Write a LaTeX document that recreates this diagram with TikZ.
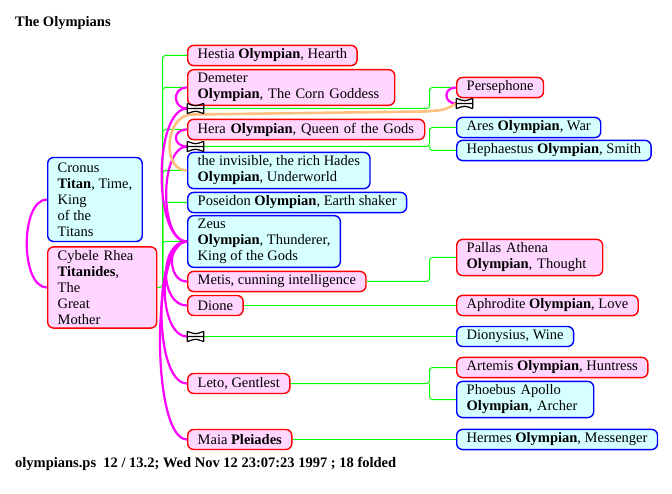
\documentclass[tikz,border=0pt]{standalone}
\usepackage{fontspec}
\setmainfont{Liberation Serif}
\usepackage{tikz}
\usetikzlibrary{positioning, calc}

\newcommand{\godfont}{\fontsize{14.5pt}{16pt}\selectfont}
\definecolor{pinkfill}{RGB}{255,214,255}
\definecolor{cyanfill}{RGB}{214,255,255}
\definecolor{peach}{RGB}{255,192,128}
\definecolor{kidgreen}{RGB}{0,255,0}
\definecolor{wedpink}{RGB}{255,0,255}
\definecolor{shered}{RGB}{255,0,0}
\definecolor{heblue}{RGB}{0,0,255}

\tikzset{
    god/.style={anchor=west, rounded corners=6pt, line width=1.4pt, inner xsep=10pt,
        inner ysep=3.5pt, minimum height=20pt, align=left, font=\godfont},
    female/.style={god, draw=shered, fill=pinkfill},
    male/.style={god, draw=heblue, fill=cyanfill},
    fold/.style={inner sep=0pt, minimum width=16pt, minimum height=10pt},
    foldmark/.style={line width=1.2pt},
    kid/.style={draw=kidgreen, line width=1pt, rounded corners=3pt},
    wed/.style={draw=wedpink, line width=2.2pt},
    farwed/.style={draw=peach, line width=2.6pt},
    plain/.style={anchor=base west, inner sep=0pt, font=\godfont\bfseries}
}

\begin{document}
\begin{tikzpicture}[x=1pt, y=-1pt]
    \useasboundingbox (0,0) rectangle (672,494);

    \node[plain] (title) at (15,27) {The Olympians};

    \node[male, minimum height=84pt] (cronus) at (47,199.5) {Cronus\\\textbf{Titan}, Time,\\King\\of the\\Titans}; % cronus
    \node[female, text width=89pt] (rhea) at (47,287.5) {Cybele Rhea\\\textbf{Titanides},\\The\\Great\\Mother}; % rhea

    \node[female] (hestia) at (187,55.5) {Hestia \textbf{Olympian}, Hearth};
    \node[female, text width=187pt] (demeter) at (187,87.5) {Demeter\\\textbf{Olympian}, The Corn Goddess};
    \node[fold] (dm) at (195.5,108.5) {}; % demeter + zeus
    \node[female, text width=217pt] (hera) at (187,129.5) {Hera \textbf{Olympian}, Queen of the Gods};
    \node[fold] (hm) at (195.5,146.5) {}; % hera + zeus
    \node[male] (hades) at (187,170.5) {the invisible, the rich Hades\\\textbf{Olympian}, Underworld};
    \node[male] (poseidon) at (187,202.5) {Poseidon \textbf{Olympian}, Earth shaker};
    \node[male] (zeus) at (187,241.5) {Zeus\\\textbf{Olympian}, Thunderer,\\King of the Gods};
    \node[female] (metis) at (187,281.5) {Metis, cunning intelligence};
    \node[female] (dione) at (187,305.5) {Dione};
    \node[fold] (zm) at (195.5,336.5) {}; % unknown + zeus
    \node[female] (leto) at (187,383.5) {Leto, Gentlest};
    \node[female] (maia) at (187,439.5) {Maia \textbf{Pleiades}};

    \node[female] (persephone) at (456,87.5) {Persephone};
    \node[fold] (pm) at (464.5,103.5) {}; % persephone + hades
    \node[male] (ares) at (456,127.5) {Ares \textbf{Olympian}, War};
    \node[male] (hephaestus) at (456,150.5) {Hephaestus \textbf{Olympian}, Smith};
    \node[female, text width=126pt] (athena) at (456,257.5) {Pallas Athena\\\textbf{Olympian}, Thought};
    \node[female] (aphrodite) at (456,305.5) {Aphrodite \textbf{Olympian}, Love};
    \node[male] (dionysius) at (456,336.5) {Dionysius, Wine};
    \node[female] (artemis) at (456,367.5) {Artemis \textbf{Olympian}, Huntress};
    \node[male, text width=117pt] (apollo) at (456,399.5) {Phoebus Apollo\\\textbf{Olympian}, Archer};
    \node[male] (hermes) at (456,439.5) {Hermes \textbf{Olympian}, Messenger};

    \node[plain] (footer) at (15,467) {olympians.ps\ \ 12 / 13.2; Wed Nov 12 23:07:23 1997 ; 18 folded};

    % children
    \coordinate (trunk) at (162.5,287.5);
    \draw[kid] (rhea.east) -- (trunk) |- (hestia.west);
    \foreach \k in {demeter,hera,hades,poseidon,zeus}
        \draw[kid] (trunk) |- (\k.west);
    \coordinate (pj) at (429.5,108.5);
    \draw[kid] (dm.east) -- (pj) |- (persephone.west);
    \coordinate (hj) at (429.5,146.5);
    \draw[kid] (hm.east) -- (hj) |- (ares.west);
    \draw[kid] (hj) |- (hephaestus.west);
    \coordinate (mj) at (429.5,281.5);
    \draw[kid] (metis.east) -- (mj) |- (athena.west);
    \draw[kid] (dione.east) -- (aphrodite.west);
    \draw[kid] (zm.east) -- (dionysius.west);
    \coordinate (lj) at (429.5,383.5);
    \draw[kid] (leto.east) -- (lj) |- (artemis.west);
    \draw[kid] (lj) |- (apollo.west);
    \draw[kid] (maia.east) -- (hermes.west);

    % marriages
    \draw[wed] (cronus.west) .. controls +(-27,0) and +(-27,0) .. (rhea.west);
    \draw[wed] (demeter.west) .. controls +(-15,0) and +(-15,0) .. (dm.west);
    \draw[wed] (hera.west) .. controls +(-15,0) and +(-15,0) .. (hm.west);
    \draw[wed] (persephone.west) .. controls +(-13,0) and +(-13,0) .. (pm.west);
    \foreach \w/\c in {dm/34,hm/28,metis/20,dione/28,zm/30,leto/34,maia/36}
        \draw[wed] (zeus.west) .. controls +(-\c,0) and +(-\c,0) .. (\w.west);
    \draw[farwed] (hades.west) .. controls +(-26,0) and (165,114.5) .. (192,114.5)
        -- (425,111.5) .. controls (445,110) .. (pm.west);

    % folded families
    \foreach \m in {dm,hm,zm,pm}
        \draw[foldmark] (\m.north west) -- (\m.south west)
            (\m.north east) -- (\m.south east)
            (\m.north west) .. controls ($(\m.center)+(0,-2)$) .. (\m.north east)
            (\m.south west) .. controls ($(\m.center)+(0,2)$) .. (\m.south east)
            (\m.west) -- (\m.east);
\end{tikzpicture}
\end{document}
